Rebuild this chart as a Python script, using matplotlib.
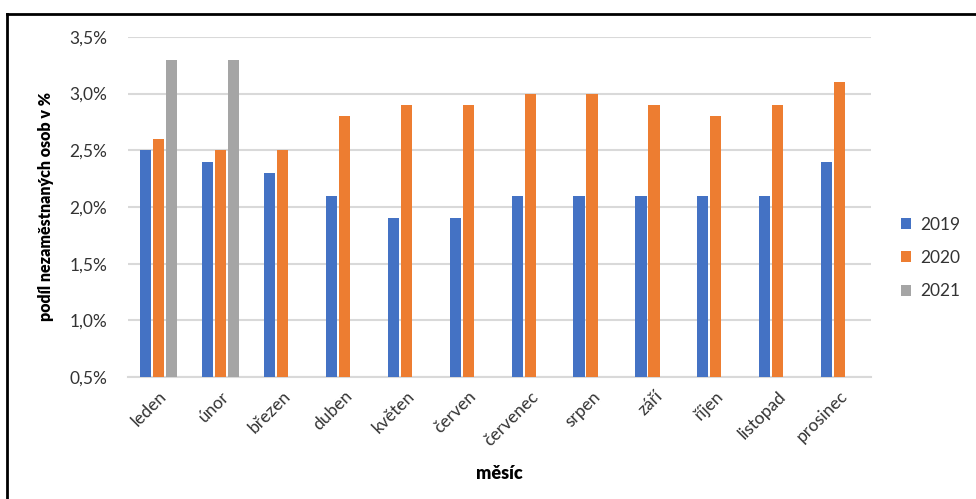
import numpy as np
import matplotlib.pyplot as plt
from matplotlib.lines import Line2D
from matplotlib.ticker import FuncFormatter

plt.rcParams['font.family'] = ['Lato', 'DejaVu Sans']

# Monthly unemployment share by year
mesice = ['leden', 'únor', 'březen', 'duben', 'květen', 'červen',
          'červenec', 'srpen', 'září', 'říjen', 'listopad', 'prosinec']
podil_2019 = [2.5, 2.4, 2.3, 2.1, 1.9, 1.9, 2.1, 2.1, 2.1, 2.1, 2.1, 2.4]
podil_2020 = [2.6, 2.5, 2.5, 2.8, 2.9, 2.9, 3.0, 3.0, 2.9, 2.8, 2.9, 3.1]
podil_2021 = [3.3, 3.3]

fig = plt.figure(figsize=(9.76, 4.99), dpi=100)
ax = fig.add_axes([0.131, 0.2445, 0.761, 0.6815])

x = np.arange(len(mesice))
w = 0.18
off = 0.21
ax.bar(x - off, podil_2019, w, color='#4472C4', label='2019', zorder=3)
ax.bar(x, podil_2020, w, color='#ED7D31', label='2020', zorder=3)
ax.bar(x[:len(podil_2021)] + off, podil_2021, w, color='#A5A5A5', label='2021', zorder=3)

ax.set_xlim(-0.5, len(mesice) - 0.5)
ax.set_ylim(0.5, 3.5)
ax.set_yticks(np.arange(0.5, 3.51, 0.5))
ax.yaxis.set_major_formatter(FuncFormatter(lambda v, p: ('%.1f%%' % v).replace('.', ',')))
ax.grid(axis='y', color='#d9d9d9', linewidth=1.5, zorder=0)
for s in ['top', 'right', 'left']:
    ax.spines[s].set_visible(False)
ax.spines['bottom'].set_color('#d9d9d9')
ax.spines['bottom'].set_linewidth(1.5)
ax.tick_params(length=0, labelsize=12.5, colors='#333333')
ax.tick_params(axis='y', pad=15)

ax.set_xticks(x)
ax.set_xticklabels(mesice, rotation=45, ha='right', rotation_mode='anchor')
ax.tick_params(axis='x', pad=8)

ax.set_ylabel('podíl nezaměstnaných osob v %', fontsize=11.5, fontweight='heavy', labelpad=11)
ax.set_xlabel('měsíc', fontsize=13, fontweight='heavy', labelpad=12)

leg = ax.legend(loc='center left', bbox_to_anchor=(1.02, 0.35), frameon=False,
                fontsize=12.5, handlelength=0.6, handleheight=0.6, labelspacing=1.0,
                handletextpad=0.5)
for t in leg.get_texts():
    t.set_color('#333333')

# frame around the chart
fig.add_artist(Line2D([0.0075, 0.0075], [0, 1 - 14 / 499], color='black', lw=2))
fig.add_artist(Line2D([0.0075, 1.0], [1 - 14 / 499, 1 - 14 / 499], color='black', lw=2))

fig.savefig('out.png', dpi=100)
